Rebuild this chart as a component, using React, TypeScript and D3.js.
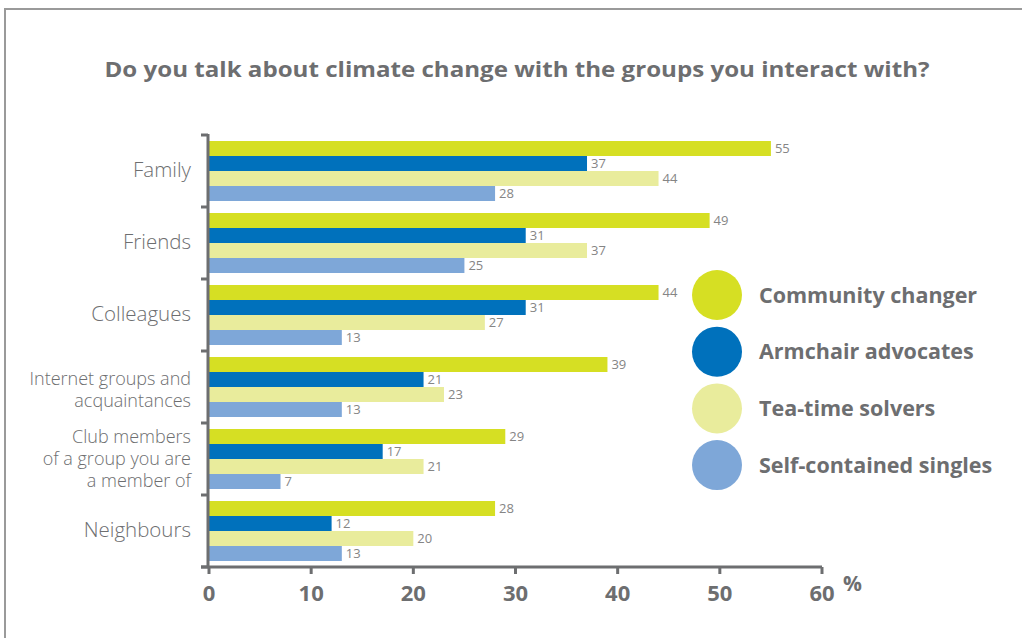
import React from "react";
import * as d3 from "d3";

const categories = [
  ["Family"],
  ["Friends"],
  ["Colleagues"],
  ["Internet groups and", "acquaintances"],
  ["Club members", "of a group you are", "a member of"],
  ["Neighbours"],
];
const seriesNames = ["Community changer", "Armchair advocates", "Tea-time solvers", "Self-contained singles"];
const seriesColors = ["#d6df23", "#0071bc", "#e9ec9c", "#7ea7d8"];
const communityChanger = [55, 49, 44, 39, 29, 28];
const armchairAdvocates = [37, 31, 31, 21, 17, 12];
const teaTimeSolvers = [44, 37, 27, 23, 21, 20];
const selfContainedSingles = [28, 25, 13, 13, 7, 13];
const seriesValues = [communityChanger, armchairAdvocates, teaTimeSolvers, selfContainedSingles];
const xTicks = [0, 10, 20, 30, 40, 50, 60];
const title = "Do you talk about climate change with the groups you interact with?";

const GRAY = "#6d6e70";
const FONT = "'Open Sans', 'DejaVu Sans', sans-serif";

export default function App() {
  const W = 1022, H = 638;
  const x = d3.scaleLinear().domain([0, 60]).range([209, 822]);
  const catKeys = categories.map((c, i) => String(i));
  const y = d3.scaleBand().domain(catKeys).range([135, 567]).padding(0);
  const inner = d3.scaleBand().domain(seriesNames).range([6, y.bandwidth() - 6]).padding(0);
  const boundaries = d3.range(categories.length + 1).map((i) => 135 + i * y.bandwidth());

  return (
    <svg width={W} height={H} style={{ position: "absolute", left: 0, top: 0, background: "#fff" }} fontFamily={FONT}>
      {/* frame */}
      <line x1={5} x2={W} y1={9} y2={9} stroke="#9a9a9a" strokeWidth={2} />
      <line x1={5} x2={5} y1={8} y2={H} stroke="#9a9a9a" strokeWidth={2} />

      <text x={517} y={77} textAnchor="middle" fontSize={21.5} fontWeight={700} fill={GRAY}
        textLength={825} lengthAdjust="spacingAndGlyphs">{title}</text>

      {/* bars */}
      {categories.map((cat, ci) => (
        <g key={ci} transform={`translate(0,${y(String(ci))})`}>
          {seriesNames.map((s, si) => {
            const v = seriesValues[si][ci];
            const by = inner(s)!;
            return (
              <g key={s}>
                <rect x={x(0)} y={by} width={x(v) - x(0)} height={inner.bandwidth()} fill={seriesColors[si]} />
                <text x={x(v) + 4} y={by + inner.bandwidth() / 2 + 4.5} fontSize={13} fill="#858585">{v}</text>
              </g>
            );
          })}
        </g>
      ))}

      {/* y axis */}
      <line x1={208} x2={208} y1={134} y2={568} stroke={GRAY} strokeWidth={3} />
      {boundaries.map((b, i) => (
        <line key={i} x1={201} x2={208} y1={b} y2={b} stroke={GRAY} strokeWidth={3} />
      ))}
      {categories.map((lines, ci) => {
        const cy = y(String(ci))! + y.bandwidth() / 2;
        const multi = lines.length > 1;
        const fs = multi ? 18 : 20.5;
        const lh = 22;
        const start = cy - ((lines.length - 1) * lh) / 2;
        return (
          <text key={ci} textAnchor="end" fontSize={fs} fontWeight={300} fill={GRAY}>
            {lines.map((l, li) => (
              <tspan key={li} x={191} y={start + li * lh + (multi ? 6 : 5.5) + (lines.length === 2 ? 3 : 0)}>{l}</tspan>
            ))}
          </text>
        );
      })}

      {/* x axis */}
      <line x1={201} x2={822} y1={567} y2={567} stroke={GRAY} strokeWidth={3} />
      {xTicks.map((t) => (
        <g key={t}>
          <line x1={x(t)} x2={x(t)} y1={567} y2={574} stroke={GRAY} strokeWidth={3} />
          <text x={x(t)} y={601} textAnchor="middle" fontSize={22} fontWeight={700} fill={GRAY}>{t}</text>
        </g>
      ))}
      <text x={843} y={591} fontSize={21} fontWeight={700} fill={GRAY}>%</text>

      {/* legend */}
      {seriesNames.map((s, i) => {
        const cy = 295 + i * 56.7;
        return (
          <g key={s}>
            <circle cx={717} cy={cy} r={25} fill={seriesColors[i]} />
            <text x={759} y={cy + 7.5} fontSize={21.5} fontWeight={700} fill={GRAY}>{s}</text>
          </g>
        );
      })}
    </svg>
  );
}
